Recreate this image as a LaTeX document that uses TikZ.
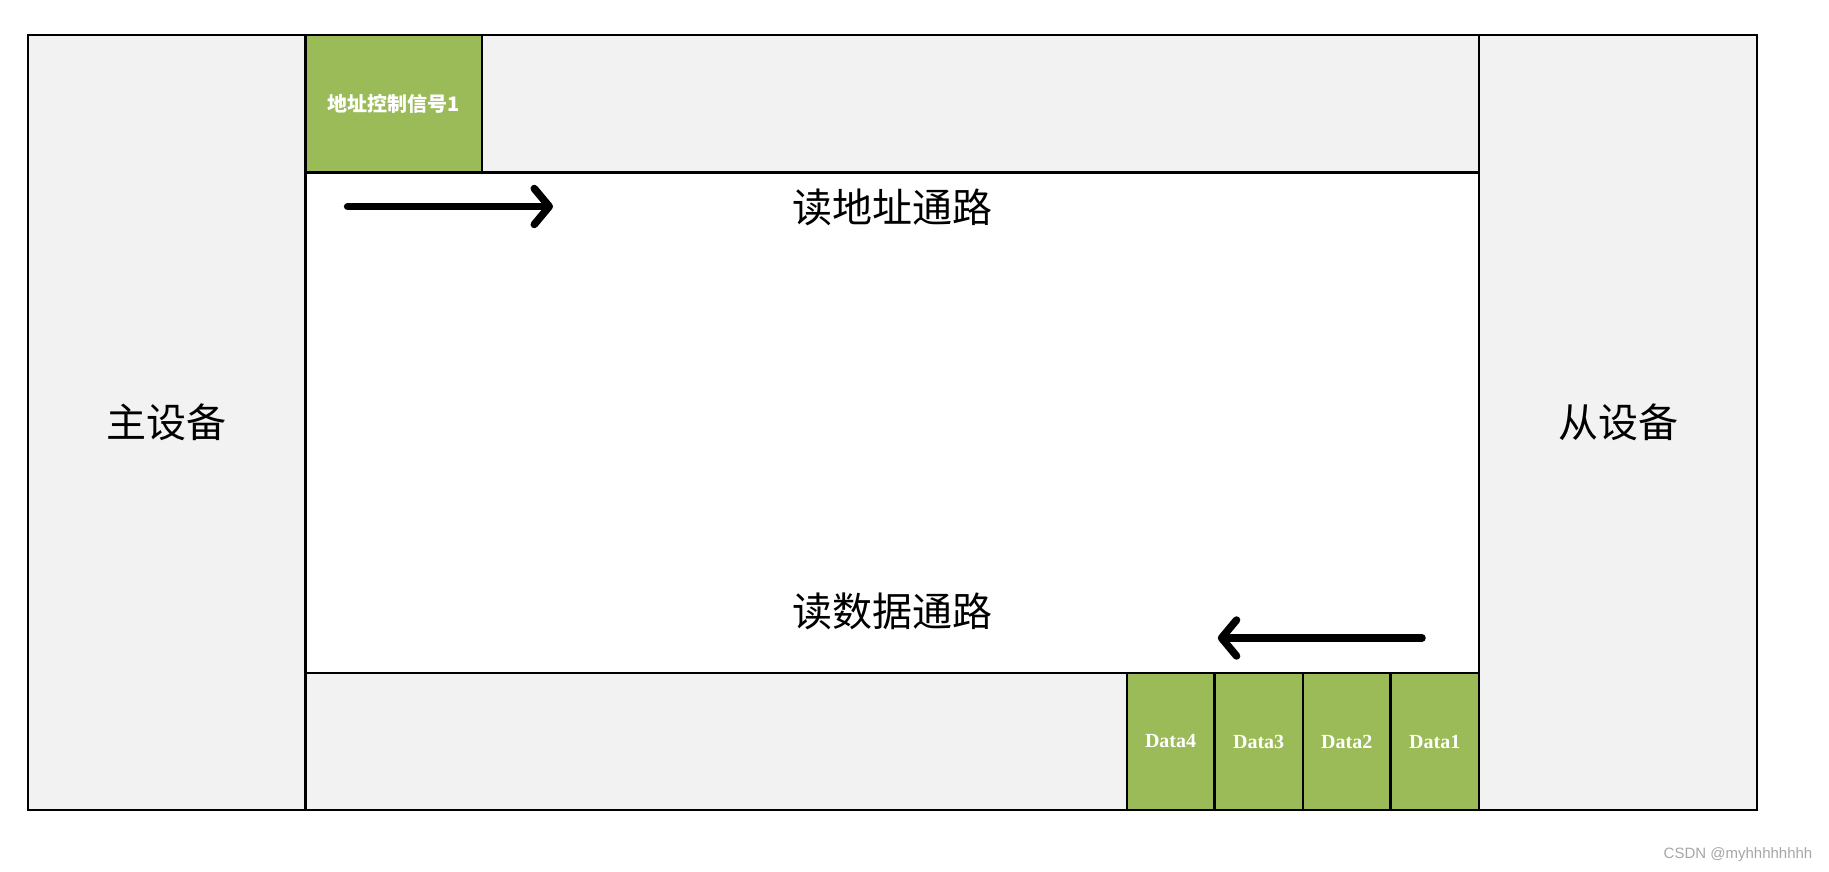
\documentclass[tikz,border=0pt]{standalone}
\usepackage{fontspec}
\setmainfont{Liberation Serif}
\setsansfont{Liberation Sans}
\newfontfamily\cjk{Noto Sans CJK SC}
\usetikzlibrary{arrows.meta}
\definecolor{panelgray}{HTML}{F2F2F2}
\definecolor{cellgreen}{HTML}{9BBB59}
\definecolor{markgray}{HTML}{A6A6A6}
\begin{document}
\begin{tikzpicture}[x=1pt,y=-1pt,
  blk/.style={draw=black, line width=2.4pt, rectangle, inner sep=0pt, outer sep=0pt, anchor=north west},
  gbox/.style={blk, fill=panelgray},
  cell/.style={blk, fill=cellgreen, text=white},
  bigtxt/.style={font=\cjk\fontsize{40pt}{42pt}\selectfont, inner sep=0pt},
  celltxt/.style={font=\bfseries\fontsize{20pt}{22pt}\selectfont},
  flow/.style={line width=7.5pt, line cap=round, -{Straight Barb[length=15pt,width=36pt,line cap=round,line join=round]}}
]
\useasboundingbox (0,0) rectangle (1829,872);
% side panels
\node[gbox, minimum width=277.6pt, minimum height=775pt, font=\cjk\fontsize{40pt}{42pt}\selectfont] (master) at (28,35) {主设备};
\node[gbox, minimum width=278pt, minimum height=775pt, font=\cjk\fontsize{40pt}{42pt}\selectfont] (slave) at (1479,35) {从设备};
% bands
\node[gbox, minimum width=1173.4pt, minimum height=137.6pt] (topband) at (305.6,35) {};
\node[gbox, minimum width=1173.4pt, minimum height=137pt] (botband) at (305.6,673) {};
% green cells
\node[cell, minimum width=176.2pt, minimum height=137.6pt, font=\cjk\bfseries\fontsize{20pt}{22pt}\selectfont] (addr) at (305.6,35) {地址控制信号1};
\node[cell, celltxt, minimum width=87.5pt, minimum height=137pt] (d4) at (1126.8,673) {Data4};
\node[cell, celltxt, minimum width=88.6pt, minimum height=137pt] (d3) at (1214.3,673) {Data3};
\node[cell, celltxt, minimum width=87.6pt, minimum height=137pt] (d2) at (1302.9,673) {Data2};
\node[cell, celltxt, minimum width=88.5pt, minimum height=137pt] (d1) at (1390.5,673) {Data1};
% channel labels
\node[bigtxt] (rach) at (892,207.6) {读地址通路};
\node[bigtxt] (rdch) at (892,611) {读数据通路};
% arrows
\coordinate (a1s) at (347.6,206.5);
\coordinate (a1e) at (553,206.5);
\coordinate (a2s) at (1422,638);
\coordinate (a2e) at (1217.8,638);
\draw[flow] (a1s) -- (a1e);
\draw[flow] (a2s) -- (a2e);
% watermark
\node[font=\sffamily\fontsize{15pt}{17pt}\selectfont, text=markgray, inner sep=0pt] (mark) at (1738,855) {CSDN @myhhhhhhhh};
\end{tikzpicture}
\end{document}
